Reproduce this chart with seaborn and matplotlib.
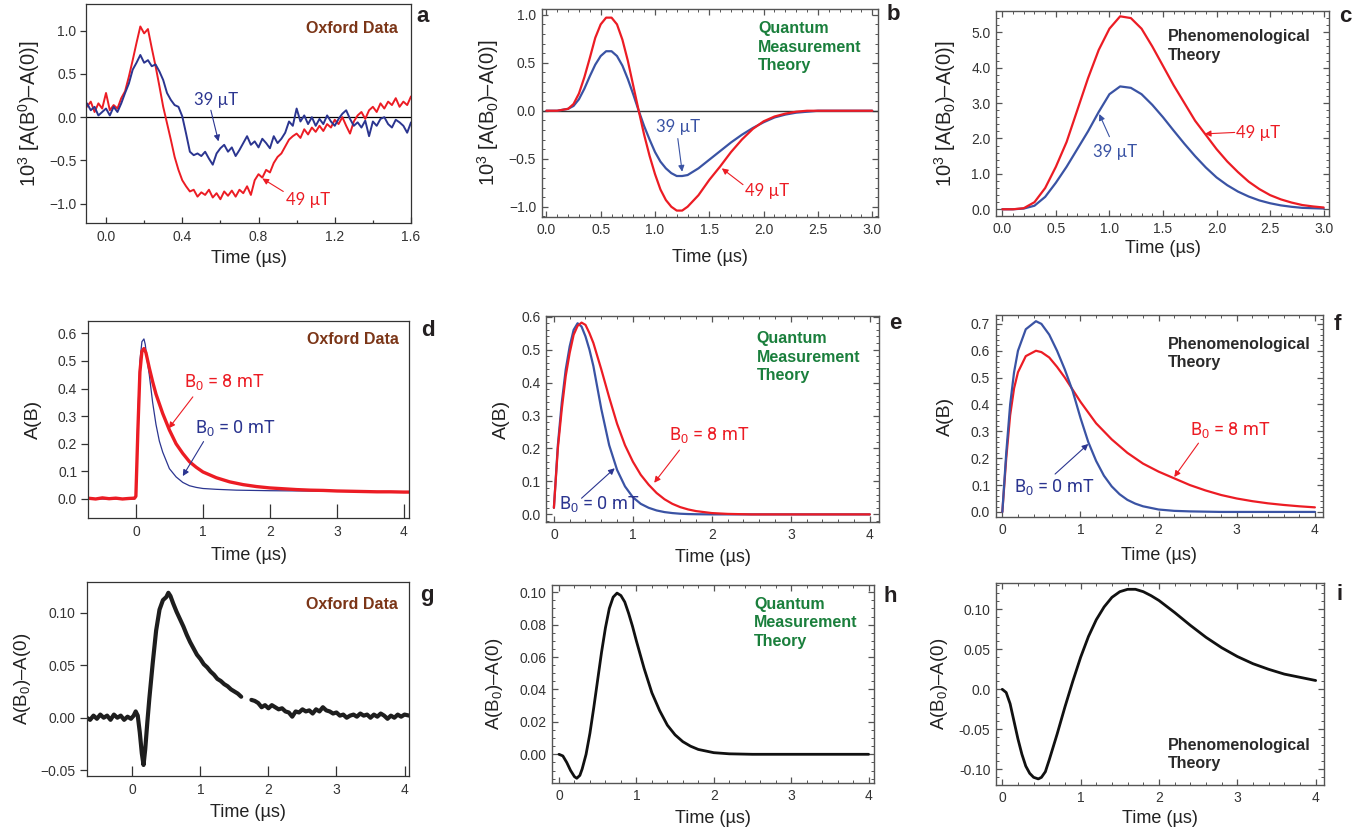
import numpy as np
import matplotlib
matplotlib.use("Agg")
import matplotlib.pyplot as plt
import seaborn as sns
from matplotlib.ticker import FixedLocator, MultipleLocator

sns.set_style("ticks")
plt.rcParams['font.family'] = ['Liberation Sans', 'DejaVu Sans']
plt.rcParams['mathtext.fontset'] = 'custom'
plt.rcParams['mathtext.rm'] = 'Liberation Sans'
plt.rcParams['mathtext.it'] = 'Liberation Sans:italic'
plt.rcParams['mathtext.bf'] = 'Liberation Sans:bold'
plt.rcParams['xtick.labelsize'] = 10
plt.rcParams['ytick.labelsize'] = 10

# ---------------- DATA ----------------
# Panel a (Oxford data, 10^3 [A(B0)-A(0)]), sampled every 0.02 us from -0.10 us
a_start, a_step = -0.10, 0.02
a_red_49uT = [0.12, 0.18, 0.06, 0.16, 0.10, 0.28, 0.08, 0.14, 0.10, 0.22,
              0.30, 0.47, 0.66, 0.86, 1.05, 0.97, 1.02, 0.80, 0.59, 0.36,
              0.12, -0.07, -0.26, -0.46, -0.61, -0.73, -0.80, -0.86, -0.84, -0.92,
              -0.87, -0.90, -0.84, -0.93, -0.88, -0.95, -0.86, -0.91, -0.85, -0.92,
              -0.84, -0.88, -0.80, -0.90, -0.73, -0.66, -0.70, -0.61, -0.64, -0.53,
              -0.46, -0.42, -0.34, -0.26, -0.22, -0.19, -0.24, -0.14, -0.20, -0.12,
              -0.17, -0.10, -0.16, -0.08, -0.12, -0.03, -0.08, 0.00, -0.10, -0.19,
              -0.05, 0.02, 0.06, -0.02, 0.08, 0.12, 0.06, 0.16, 0.10, 0.18,
              0.14, 0.22, 0.12, 0.18, 0.14, 0.24]
a_blue_39uT = [0.16, 0.08, 0.12, 0.02, 0.06, 0.10, 0.02, 0.12, 0.06, 0.16,
               0.28, 0.39, 0.55, 0.63, 0.72, 0.63, 0.66, 0.59, 0.61, 0.53,
               0.43, 0.28, 0.20, 0.14, 0.12, 0.01, -0.19, -0.40, -0.44, -0.42,
               -0.45, -0.40, -0.48, -0.55, -0.42, -0.36, -0.32, -0.40, -0.35, -0.45,
               -0.38, -0.30, -0.22, -0.32, -0.28, -0.35, -0.25, -0.30, -0.36, -0.22,
               -0.30, -0.25, -0.18, -0.05, -0.10, 0.10, -0.05, 0.02, -0.08, 0.00,
               -0.10, -0.02, -0.08, 0.02, -0.05, -0.10, -0.02, 0.04, 0.08, -0.02,
               -0.10, -0.06, -0.12, -0.04, -0.22, -0.05, -0.10, -0.02, 0.00, -0.08,
               -0.12, -0.03, -0.06, -0.10, -0.18, -0.06]

# Panel b (quantum measurement theory)
b_time = [0, 0.1, 0.2, 0.25, 0.3, 0.35, 0.4, 0.45, 0.5, 0.55, 0.6, 0.65, 0.7, 0.75, 0.8,
          0.85, 0.9, 0.95, 1.0, 1.05, 1.1, 1.15, 1.2, 1.25, 1.3, 1.4, 1.5, 1.6, 1.7, 1.8,
          1.9, 2.0, 2.1, 2.2, 2.3, 2.4, 2.5, 3.0]
b_red_49uT = [0, 0, 0.02, 0.07, 0.18, 0.35, 0.55, 0.76, 0.9, 0.97, 0.97, 0.9, 0.74, 0.52, 0.26,
              0.0, -0.25, -0.47, -0.66, -0.82, -0.93, -1.0, -1.04, -1.04, -1.0, -0.88, -0.72,
              -0.58, -0.43, -0.3, -0.19, -0.11, -0.06, -0.03, -0.01, 0, 0, 0]
b_blue_39uT = [0, 0, 0.02, 0.05, 0.12, 0.23, 0.36, 0.48, 0.57, 0.62, 0.62, 0.57, 0.47, 0.33, 0.17,
               0.0, -0.16, -0.3, -0.43, -0.53, -0.6, -0.65, -0.68, -0.68, -0.67, -0.6, -0.51,
               -0.42, -0.33, -0.25, -0.18, -0.12, -0.07, -0.04, -0.02, -0.01, 0, 0]

# Panel c (phenomenological theory)
c_time = [0, 0.1, 0.2, 0.3, 0.4, 0.5, 0.6, 0.7, 0.8, 0.9, 1.0, 1.1, 1.2, 1.3, 1.4, 1.5,
          1.6, 1.7, 1.8, 1.9, 2.0, 2.1, 2.2, 2.3, 2.4, 2.5, 2.6, 2.7, 2.8, 2.9, 3.0]
c_red_49uT = [0, 0, 0.03, 0.2, 0.6, 1.2, 1.9, 2.8, 3.7, 4.5, 5.1, 5.45, 5.4, 5.1, 4.6, 4.05,
              3.5, 3.0, 2.5, 2.1, 1.7, 1.35, 1.05, 0.78, 0.57, 0.4, 0.28, 0.19, 0.12, 0.08, 0.05]
c_blue_39uT = [0, 0, 0.02, 0.1, 0.35, 0.75, 1.2, 1.7, 2.2, 2.75, 3.25, 3.47, 3.43, 3.25, 2.95, 2.6,
               2.22, 1.85, 1.5, 1.18, 0.9, 0.68, 0.5, 0.36, 0.25, 0.17, 0.11, 0.07, 0.04, 0.03, 0.02]

# Panel d (Oxford data, A(B))
d_time = [-0.72, -0.6, -0.5, -0.4, -0.3, -0.2, -0.1, -0.02, 0.0, 0.03, 0.06, 0.09, 0.12, 0.15,
          0.2, 0.25, 0.3, 0.4, 0.5, 0.6, 0.7, 0.8, 0.9, 1.0, 1.2, 1.4, 1.6, 1.8, 2.0, 2.2,
          2.4, 2.6, 2.8, 3.0, 3.2, 3.4, 3.6, 3.8, 4.0, 4.1]
d_red_8mT = [0.003, 0.0, 0.004, 0.001, 0.003, 0.0, 0.002, 0.003, 0.01, 0.25, 0.46, 0.535, 0.545, 0.53,
             0.475, 0.425, 0.38, 0.31, 0.25, 0.2, 0.165, 0.135, 0.115, 0.098, 0.077, 0.062, 0.052,
             0.045, 0.040, 0.037, 0.034, 0.032, 0.031, 0.029, 0.028, 0.027, 0.026, 0.026, 0.025, 0.025]
d_time_blue = [-0.72, -0.4, -0.02, 0.0, 0.03, 0.06, 0.09, 0.12, 0.14, 0.17, 0.2, 0.25, 0.3, 0.35,
               0.4, 0.5, 0.6, 0.7, 0.8, 0.9, 1.0, 1.2, 1.5, 2.0, 2.5, 3.0, 3.5, 4.0, 4.1]
d_blue_0mT = [0.0, 0.0, 0.0, 0.01, 0.3, 0.5, 0.57, 0.58, 0.56, 0.5, 0.45, 0.35, 0.27, 0.21,
              0.17, 0.11, 0.08, 0.06, 0.048, 0.042, 0.038, 0.035, 0.032, 0.03, 0.029, 0.028, 0.026,
              0.025, 0.025]

# Panel e (quantum measurement theory, A(B))
e_time = [0, 0.05, 0.1, 0.15, 0.2, 0.25, 0.3, 0.35, 0.4, 0.45, 0.5, 0.6, 0.7, 0.8, 0.9, 1.0,
          1.1, 1.2, 1.3, 1.4, 1.5, 1.6, 1.7, 1.8, 2.0, 2.2, 2.5, 3.0, 4.0]
e_red_8mT = [0.02, 0.2, 0.32, 0.42, 0.49, 0.545, 0.572, 0.582, 0.575, 0.55, 0.52, 0.44, 0.355,
             0.275, 0.21, 0.16, 0.12, 0.09, 0.065, 0.046, 0.032, 0.022, 0.015, 0.01, 0.004,
             0.0015, 0, 0, 0]
e_blue_0mT = [0.02, 0.21, 0.34, 0.44, 0.51, 0.56, 0.58, 0.57, 0.54, 0.5, 0.45, 0.32, 0.21,
              0.135, 0.085, 0.052, 0.032, 0.02, 0.012, 0.007, 0.004, 0.002, 0.001, 0.0005, 0,
              0, 0, 0, 0]

# Panel f (phenomenological theory, A(B))
f_time = [0, 0.05, 0.1, 0.15, 0.2, 0.3, 0.43, 0.5, 0.6, 0.7, 0.8, 0.9, 1.0, 1.1, 1.2, 1.3,
          1.4, 1.5, 1.6, 1.7, 1.8, 2.0, 2.2, 2.4, 2.6, 2.8, 3.0, 3.2, 3.4, 3.6, 3.8, 4.0]
f_blue_0mT = [0, 0.22, 0.4, 0.52, 0.6, 0.68, 0.71, 0.70, 0.66, 0.6, 0.53, 0.45, 0.35, 0.26,
              0.19, 0.135, 0.095, 0.066, 0.045, 0.031, 0.021, 0.009, 0.004, 0.002, 0.001, 0,
              0, 0, 0, 0, 0, 0]
f_red_8mT = [0, 0.2, 0.36, 0.46, 0.52, 0.58, 0.6, 0.595, 0.575, 0.54, 0.5, 0.455, 0.41, 0.37,
             0.33, 0.3, 0.27, 0.245, 0.22, 0.2, 0.18, 0.15, 0.125, 0.1, 0.08, 0.063, 0.05,
             0.04, 0.032, 0.026, 0.021, 0.017]

# Panel g (Oxford data, A(B0)-A(0)); NaN = gap in the record
g_time = [-0.67, -0.62, -0.57, -0.52, -0.47, -0.42, -0.37, -0.32, -0.27, -0.22,
          -0.17, -0.12, -0.07, -0.02, 0.02, 0.05, 0.08, 0.11, 0.14, 0.165,
          0.19, 0.22, 0.25, 0.3, 0.35, 0.4, 0.45, 0.5, 0.53, 0.56,
          0.6, 0.65, 0.7, 0.75, 0.8, 0.85, 0.9, 0.95, 1.0, 1.05,
          1.1, 1.15, 1.2, 1.25, 1.3, 1.35, 1.4, 1.45, 1.5, 1.55,
          1.6, 1.65, 1.7, 1.75, 1.8, 1.85, 1.9, 1.95, 2.0, 2.05,
          2.1, 2.15, 2.2, 2.25, 2.3, 2.35, 2.4, 2.45, 2.5, 2.55,
          2.6, 2.65, 2.7, 2.75, 2.8, 2.85, 2.9, 2.95, 3.0, 3.05,
          3.1, 3.15, 3.2, 3.25, 3.3, 3.35, 3.4, 3.45, 3.5, 3.55,
          3.6, 3.65, 3.7, 3.75, 3.8, 3.85, 3.9, 3.95, 4.0, 4.07]
g_diff = [0.000, -0.002, 0.002, -0.001, 0.003, 0.000, 0.002, -0.002, 0.003, 0.000,
          0.002, -0.002, 0.001, -0.001, 0.002, 0.006, 0.002, -0.014, -0.034, -0.045,
          -0.030, -0.005, 0.018, 0.052, 0.083, 0.103, 0.112, 0.115, 0.119, 0.116,
          0.109, 0.101, 0.094, 0.087, 0.079, 0.072, 0.066, 0.060, 0.056, 0.051,
          0.048, 0.044, 0.041, 0.037, 0.035, 0.032, 0.030, 0.027, 0.025, 0.023,
          0.020, np.nan, np.nan, 0.017, 0.016, 0.014, 0.010, 0.012, 0.009, 0.012,
          0.010, 0.008, 0.009, 0.006, 0.005, 0.001, 0.006, 0.005, 0.008, 0.006,
          0.007, 0.004, 0.008, 0.006, 0.010, 0.007, 0.006, 0.004, 0.005, 0.002,
          0.003, 0.000, 0.002, 0.003, 0.001, 0.004, 0.002, 0.003, 0.000, 0.003,
          0.001, 0.004, 0.002, -0.001, 0.002, 0.000, 0.003, 0.001, 0.003, 0.002]

# Panel h (quantum measurement theory)
h_time = [0, 0.05, 0.1, 0.15, 0.2, 0.23, 0.27, 0.3, 0.35, 0.4, 0.45, 0.5, 0.55, 0.6, 0.65,
          0.7, 0.75, 0.8, 0.85, 0.9, 0.95, 1.0, 1.1, 1.2, 1.3, 1.4, 1.5, 1.6, 1.7, 1.8,
          2.0, 2.2, 2.5, 3.0, 4.0]
h_diff = [0, -0.001, -0.005, -0.01, -0.0138, -0.0148, -0.013, -0.009, 0.0, 0.013, 0.029, 0.046,
          0.063, 0.078, 0.09, 0.097, 0.0995, 0.098, 0.094, 0.087, 0.079, 0.07, 0.053, 0.038,
          0.027, 0.018, 0.012, 0.0078, 0.005, 0.003, 0.001, 0.0003, 0, 0, 0]

# Panel i (phenomenological theory)
i_time = [0, 0.05, 0.1, 0.15, 0.2, 0.25, 0.3, 0.35, 0.4, 0.46, 0.5, 0.55, 0.6, 0.7, 0.8, 0.9,
          1.0, 1.1, 1.2, 1.3, 1.4, 1.5, 1.6, 1.7, 1.8, 1.9, 2.0, 2.2, 2.4, 2.6, 2.8, 3.0,
          3.2, 3.4, 3.6, 3.8, 4.0]
i_diff = [0, -0.004, -0.018, -0.04, -0.062, -0.081, -0.096, -0.105, -0.11, -0.112, -0.11,
          -0.103, -0.088, -0.056, -0.022, 0.01, 0.04, 0.066, 0.087, 0.103, 0.115, 0.122, 0.125,
          0.125, 0.122, 0.117, 0.111, 0.096, 0.08, 0.065, 0.052, 0.041, 0.032, 0.025, 0.019,
          0.015, 0.011]

# Tick labels
a_xticks = [0.0, 0.4, 0.8, 1.2, 1.6]
a_xlabels = ["0.0", "0.4", "0.8", "1.2", "1.6"]
a_yticks = [-1.0, -0.5, 0.0, 0.5, 1.0]
a_ylabels = ["\u22121.0", "\u22120.5", "0.0", "0.5", "1.0"]
bc_xticks = [0.0, 0.5, 1.0, 1.5, 2.0, 2.5, 3.0]
bc_xlabels = ["0.0", "0.5", "1.0", "1.5", "2.0", "2.5", "3.0"]
b_yticks = [-1.0, -0.5, 0.0, 0.5, 1.0]
b_ylabels = ["\u22121.0", "\u22120.5", "0.0", "0.5", "1.0"]
c_yticks = [0, 1, 2, 3, 4, 5]
c_ylabels = ["0.0", "1.0", "2.0", "3.0", "4.0", "5.0"]
t4_xticks = [0, 1, 2, 3, 4]
t4_xlabels = ["0", "1", "2", "3", "4"]
d_yticks = [0.0, 0.1, 0.2, 0.3, 0.4, 0.5, 0.6]
d_ylabels = ["0.0", "0.1", "0.2", "0.3", "0.4", "0.5", "0.6"]
f_yticks = [0.0, 0.1, 0.2, 0.3, 0.4, 0.5, 0.6, 0.7]
f_ylabels = ["0.0", "0.1", "0.2", "0.3", "0.4", "0.5", "0.6", "0.7"]
g_yticks = [-0.05, 0.0, 0.05, 0.10]
g_ylabels = ["\u22120.05", "0.00", "0.05", "0.10"]
h_yticks = [0.0, 0.02, 0.04, 0.06, 0.08, 0.10]
h_ylabels = ["0.00", "0.02", "0.04", "0.06", "0.08", "0.10"]
i_yticks = [-0.10, -0.05, 0.0, 0.05, 0.10]
i_ylabels = ["-0.10", "-0.05", "0.0", "0.05", "0.10"]

# ---------------- STYLE ----------------
RED = '#EC1C24'
BLUE_D = '#2B3590'
BLUE_T = '#3A53A4'
GREEN = '#1A7F3C'
BROWN = '#7B3517'
DARK = '#231F20'
FRAME = '#555555'

W, H = 1357, 834
fig = plt.figure(figsize=(W / 100, H / 100), dpi=100)


def add_ax(l, t, r, b):
    return fig.add_axes([l / W, 1 - b / H, (r - l) / W, (b - t) / H])


def line(ax, x, y, color, lw):
    x = np.asarray(x, float)
    y = np.asarray(y, float)
    ok = ~np.isnan(y)
    idx = np.where(ok)[0]
    groups = np.split(idx, np.where(np.diff(idx) > 1)[0] + 1)
    for g in groups:
        sns.lineplot(x=x[g], y=y[g], ax=ax, color=color, linewidth=lw,
                     sort=False, estimator=None)


def set_ticks(ax, xt, xl, yt, yl):
    ax.xaxis.set_major_locator(FixedLocator(xt))
    ax.set_xticklabels(xl)
    ax.yaxis.set_major_locator(FixedLocator(yt))
    ax.set_yticklabels(yl)


def theory_style(ax, xminor, yminor):
    for s in ax.spines.values():
        s.set_visible(True)
        s.set_color(FRAME)
        s.set_linewidth(1.0)
    ax.xaxis.set_minor_locator(MultipleLocator(xminor))
    ax.yaxis.set_minor_locator(MultipleLocator(yminor))
    ax.tick_params(which='both', direction='in', top=True, right=True,
                   color=FRAME, labelcolor='#333333')
    ax.tick_params(which='major', length=4.5, width=0.9, pad=4)
    ax.tick_params(which='minor', length=2.5, width=0.7)


def oxford_style(ax, xlen, ylen, xminor=None):
    for s in ax.spines.values():
        s.set_visible(True)
        s.set_color('#333333')
        s.set_linewidth(0.9)
    ax.tick_params(axis='x', which='both', direction='in', length=xlen, width=0.9,
                   color='#333333', labelcolor='#333333', pad=5)
    ax.tick_params(axis='y', which='both', direction='out', length=ylen, width=0.9,
                   color='#333333', labelcolor='#333333', pad=3)
    if xminor:
        ax.xaxis.set_minor_locator(MultipleLocator(xminor))
        ax.tick_params(axis='x', which='minor', length=xlen * 0.6)


def labels(ax, ylabel, ylx, xly, ysize=13):
    ax.set_xlabel("Time (\u00b5s)", fontsize=13, color='#222222', va='center')
    ax.set_ylabel(ylabel, fontsize=ysize, color='#222222', va='center')
    ax.xaxis.set_label_coords(0.5, xly)
    ax.yaxis.set_label_coords(ylx, 0.5)


def arrow(ax, tail, head, color):
    ax.annotate('', xy=head, xytext=tail,
                arrowprops=dict(arrowstyle='-|>', color=color, lw=0.8,
                                shrinkA=0, shrinkB=0, mutation_scale=9))


lab_font = dict(family=['Lato', 'DejaVu Sans'], fontsize=12)
b_font = dict(family=['Liberation Sans Narrow', 'Roboto', 'DejaVu Sans'], fontsize=13)
bold = dict(fontweight='bold', fontsize=11.5)
LS = 1.28

# ---------------- PANEL a ----------------
ax = add_ax(86, 4, 411, 223)
t_a = np.round(a_start + a_step * np.arange(len(a_red_49uT)), 2)
ax.axhline(0, color='black', lw=0.9, zorder=1)
line(ax, t_a, a_red_49uT, RED, 1.4)
line(ax, t_a[:len(a_blue_39uT)], a_blue_39uT, BLUE_D, 1.4)
ax.set_xlim(-0.105, 1.6)
ax.set_ylim(-1.225, 1.31)
set_ticks(ax, a_xticks, a_xlabels, a_yticks, a_ylabels)
oxford_style(ax, 4, 4, xminor=0.2)
labels(ax, "10$^3$ [A(B$^0$)\u2013A(0)]", -0.175, -0.163, ysize=14.5)
ax.text(0.575, 0.2, "39 \u00b5T", color=BLUE_D, ha='center', va='center', **lab_font)
arrow(ax, (0.55, 0.08), (0.59, -0.28), BLUE_D)
ax.text(1.06, -0.96, "49 \u00b5T", color=RED, ha='center', va='center', **lab_font)
arrow(ax, (0.93, -0.86), (0.82, -0.71), RED)
ax.text(0.96, 0.89, "Oxford Data", transform=ax.transAxes, color=BROWN, ha='right',
        va='center', **bold)

# ---------------- PANEL b ----------------
ax = add_ax(541.7, 9, 877.7, 217)
ax.axhline(0, color='#333333', lw=1.0, zorder=1)
line(ax, b_time, b_blue_39uT, BLUE_T, 1.6)
line(ax, b_time, b_red_49uT, RED, 1.6)
ax.set_xlim(-0.043, 3.05)
ax.set_ylim(-1.107, 1.06)
set_ticks(ax, bc_xticks, bc_xlabels, b_yticks, b_ylabels)
theory_style(ax, 0.1, 0.1)
labels(ax, "10$^3$ [A(B$_0$)\u2013A(0)]", -0.16, -0.195, ysize=14.5)
ax.text(1.21, -0.17, "39 \u00b5T", color=BLUE_T, ha='center', va='center', **lab_font)
arrow(ax, (1.21, -0.29), (1.25, -0.635), BLUE_T)
ax.text(2.03, -0.84, "49 \u00b5T", color=RED, ha='center', va='center', **lab_font)
arrow(ax, (1.81, -0.77), (1.615, -0.6), RED)
ax.text(0.644, 0.94, "Quantum\nMeasurement\nTheory", transform=ax.transAxes, color=GREEN,
        ha='left', va='top', linespacing=LS, **bold)

# ---------------- PANEL c ----------------
ax = add_ax(996, 11, 1329, 216)
line(ax, c_time, c_blue_39uT, BLUE_T, 1.6)
line(ax, c_time, c_red_49uT, RED, 1.6)
ax.set_xlim(-0.059, 3.05)
ax.set_ylim(-0.19, 5.6)
set_ticks(ax, bc_xticks, bc_xlabels, c_yticks, c_ylabels)
theory_style(ax, 0.1, 0.2)
labels(ax, "10$^3$ [A(B$_0$)\u2013A(0)]", -0.153, -0.16, ysize=14.5)
ax.text(1.05, 1.63, "39 \u00b5T", color=BLUE_T, ha='center', va='center', **lab_font)
arrow(ax, (1.0, 2.05), (0.905, 2.69), BLUE_T)
ax.text(2.39, 2.15, "49 \u00b5T", color=RED, ha='center', va='center', **lab_font)
arrow(ax, (2.17, 2.17), (1.89, 2.13), RED)
ax.text(0.517, 0.91, "Phenomenological\nTheory", transform=ax.transAxes, color='#2A2A2A',
        ha='left', va='top', linespacing=LS, **bold)

# ---------------- PANEL d ----------------
ax = add_ax(88.3, 320.7, 409.3, 518.3)
line(ax, d_time_blue, d_blue_0mT, BLUE_D, 0.9)
line(ax, d_time, d_red_8mT, RED, 2.4)
ax.set_xlim(-0.71, 4.08)
ax.set_ylim(-0.07, 0.646)
set_ticks(ax, t4_xticks, t4_xlabels, d_yticks, d_ylabels)
oxford_style(ax, 10, 5)
labels(ax, "A(B)", -0.172, -0.19, ysize=14)
ax.text(1.32, 0.425, "B$_0$ = 8 mT", color=RED, ha='center', va='center', **b_font)
arrow(ax, (0.85, 0.37), (0.49, 0.256), RED)
ax.text(1.48, 0.256, "B$_0$ = 0 mT", color=BLUE_D, ha='center', va='center', **b_font)
arrow(ax, (1.01, 0.208), (0.70, 0.083), BLUE_D)
ax.text(0.966, 0.906, "Oxford Data", transform=ax.transAxes, color=BROWN, ha='right',
        va='center', **bold)

# ---------------- PANEL e ----------------
ax = add_ax(546, 316, 879.3, 522.3)
line(ax, e_time, e_blue_0mT, BLUE_T, 1.6)
line(ax, e_time, e_red_8mT, RED, 1.6)
ax.set_xlim(-0.10, 4.12)
ax.set_ylim(-0.024, 0.602)
set_ticks(ax, t4_xticks, t4_xlabels, d_yticks, d_ylabels)
theory_style(ax, 0.2, 0.02)
labels(ax, "A(B)", -0.133, -0.17, ysize=14)
ax.text(1.97, 0.24, "B$_0$ = 8 mT", color=RED, ha='center', va='center', **b_font)
arrow(ax, (1.59, 0.195), (1.27, 0.096), RED)
ax.text(0.57, 0.031, "B$_0$ = 0 mT", color=BLUE_D, ha='center', va='center', **b_font)
arrow(ax, (0.35, 0.049), (0.77, 0.14), BLUE_D)
ax.text(0.632, 0.925, "Quantum\nMeasurement\nTheory", transform=ax.transAxes, color=GREEN,
        ha='left', va='top', linespacing=LS, **bold)

# ---------------- PANEL f ----------------
ax = add_ax(995.7, 315.3, 1322.7, 517.3)
line(ax, f_time, f_red_8mT, RED, 1.6)
line(ax, f_time, f_blue_0mT, BLUE_T, 1.6)
ax.set_xlim(-0.085, 4.1)
ax.set_ylim(-0.02, 0.732)
set_ticks(ax, t4_xticks, t4_xlabels, f_yticks, f_ylabels)
theory_style(ax, 0.2, 0.02)
labels(ax, "A(B)", -0.155, -0.19, ysize=14)
ax.text(2.92, 0.305, "B$_0$ = 8 mT", color=RED, ha='center', va='center', **b_font)
arrow(ax, (2.51, 0.256), (2.2, 0.13), RED)
ax.text(0.66, 0.094, "B$_0$ = 0 mT", color=BLUE_D, ha='center', va='center', **b_font)
arrow(ax, (0.675, 0.141), (1.1, 0.253), BLUE_D)
ax.text(0.528, 0.895, "Phenomenological\nTheory", transform=ax.transAxes, color='#2A2A2A',
        ha='left', va='top', linespacing=LS, **bold)

# ---------------- PANEL g ----------------
ax = add_ax(86.7, 582.3, 409.3, 776)
line(ax, g_time, g_diff, '#1E1E1E', 3.0)
ax.set_xlim(-0.67, 4.07)
ax.set_ylim(-0.0555, 0.129)
set_ticks(ax, t4_xticks, t4_xlabels, g_yticks, g_ylabels)
oxford_style(ax, 7, 5)
labels(ax, "A(B$_0$)\u2013A(0)", -0.2, -0.19, ysize=13.5)
ax.text(0.966, 0.883, "Oxford Data", transform=ax.transAxes, color=BROWN, ha='right',
        va='center', **bold)

# ---------------- PANEL h ----------------
ax = add_ax(551.7, 585, 874, 783.3)
line(ax, h_time, h_diff, '#111111', 2.0)
ax.set_xlim(-0.094, 4.07)
ax.set_ylim(-0.0179, 0.1045)
set_ticks(ax, t4_xticks, t4_xlabels, h_yticks, h_ylabels)
theory_style(ax, 0.2, 0.005)
labels(ax, "A(B$_0$)\u2013A(0)", -0.176, -0.177, ysize=13.5)
ax.text(0.628, 0.94, "Quantum\nMeasurement\nTheory", transform=ax.transAxes, color=GREEN,
        ha='left', va='top', linespacing=LS, **bold)

# ---------------- PANEL i ----------------
ax = add_ax(996, 583.3, 1324.3, 785)
line(ax, i_time, i_diff, '#111111', 2.0)
ax.set_xlim(-0.08, 4.11)
ax.set_ylim(-0.1196, 0.1325)
set_ticks(ax, t4_xticks, t4_xlabels, i_yticks, i_ylabels)
theory_style(ax, 0.2, 0.01)
labels(ax, "A(B$_0$)\u2013A(0)", -0.171, -0.165, ysize=13.5)
ax.text(0.525, 0.235, "Phenomenological\nTheory", transform=ax.transAxes, color='#2A2A2A',
        ha='left', va='top', linespacing=LS, **bold)

# ---------------- panel letters ----------------
letters = ['a', 'b', 'c', 'd', 'e', 'f', 'g', 'h', 'i']
letter_px = [(423, 17), (893, 15), (1345, 17), (428, 330), (895, 323), (1337, 325),
             (427, 595), (890, 597), (1340, 595)]
for L, (px, py) in zip(letters, letter_px):
    fig.text(px / W, 1 - py / H, L, fontsize=16, fontweight='bold', color=DARK,
             ha='center', va='center')

fig.savefig("out.png", dpi=100)
